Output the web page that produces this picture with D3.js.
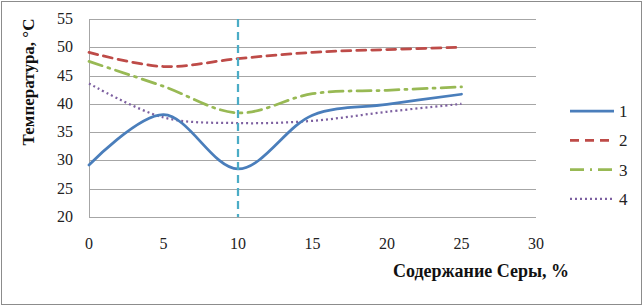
<!DOCTYPE html>
<html>
<head>
<meta charset="utf-8">
<script src="https://cdn.jsdelivr.net/npm/d3@7"></script>
<style>
  body { margin: 0; background: #fff; }
</style>
</head>
<body>
<svg id="chart" width="644" height="307"></svg>
<script>
// sulfur content, %
const sulfur = [0, 5, 10, 15, 20, 25];
const series1 = [29.2, 38.1, 28.5, 38.0, 39.9, 41.7];
const series2 = [49.1, 46.6, 48.0, 49.1, 49.6, 50.0];
const series3 = [47.5, 43.1, 38.4, 41.8, 42.4, 43.0];
const series4 = [43.6, 37.6, 36.6, 37.0, 38.6, 40.0];
const seriesNames = ["1", "2", "3", "4"];
const xTicks = [0, 5, 10, 15, 20, 25, 30];
const yTicks = [20, 25, 30, 35, 40, 45, 50, 55];
const markerX = 10;

const FONT = "'Liberation Serif', 'DejaVu Serif', 'Times New Roman', serif";

const svg = d3.select("#chart")
    .attr("font-family", FONT);

// outer frame
svg.append("rect")
    .attr("x", 1.5).attr("y", 1.5)
    .attr("width", 640).attr("height", 303)
    .attr("fill", "#fff")
    .attr("stroke", "#8c8c8c")
    .attr("stroke-width", 1);

const x = d3.scaleLinear().domain([0, 30]).range([89, 536]);
const y = d3.scaleLinear().domain([20, 55]).range([217, 19]);

// horizontal grid
svg.append("g")
    .selectAll("line")
    .data(yTicks)
    .join("line")
    .attr("x1", x(0)).attr("x2", x(30))
    .attr("y1", d => Math.round(y(d)) + 0.5)
    .attr("y2", d => Math.round(y(d)) + 0.5)
    .attr("stroke", "#a6a6a6")
    .attr("stroke-width", 1);

// left axis line
svg.append("line")
    .attr("x1", x(0) + 0.5).attr("x2", x(0) + 0.5)
    .attr("y1", y(55)).attr("y2", y(20))
    .attr("stroke", "#a6a6a6");

// y tick labels
svg.append("g")
    .selectAll("text")
    .data(yTicks)
    .join("text")
    .attr("font-family", FONT)
    .attr("x", 73)
    .attr("y", d => y(d) + 5)
    .attr("text-anchor", "end")
    .attr("font-size", 16)
    .attr("fill", "#222")
    .text(d => d);

// x tick labels
svg.append("g")
    .selectAll("text")
    .data(xTicks)
    .join("text")
    .attr("font-family", FONT)
    .attr("x", d => x(d))
    .attr("y", 249)
    .attr("text-anchor", "middle")
    .attr("font-size", 16)
    .attr("fill", "#222")
    .text(d => d);

// axis titles
svg.append("text")
    .attr("font-family", FONT)
    .attr("transform", "translate(34,82) rotate(-90)")
    .attr("text-anchor", "middle")
    .attr("font-size", 17)
    .attr("font-weight", "bold")
    .attr("fill", "#111")
    .text("Температура, °С");

svg.append("text")
    .attr("font-family", FONT)
    .attr("x", 481)
    .attr("y", 277)
    .attr("text-anchor", "middle")
    .attr("font-size", 18)
    .attr("font-weight", "bold")
    .attr("fill", "#111")
    .text("Содержание Серы, %");

// series
const styles = [
    { color: "#4a7ebb", dash: null, width: 2.75 },
    { color: "#be4b48", dash: "9,6", width: 2.75 },
    { color: "#98b954", dash: "14,6,2,6", width: 2.75 },
    { color: "#7d60a0", dash: "2,3", width: 2.25 }
];
const allSeries = [series1, series2, series3, series4];

const line = d3.line()
    .x((d, i) => x(sulfur[i]))
    .y(d => y(d))
    .curve(d3.curveCatmullRom.alpha(0.5));

// draw 4, 3, 2, 1 so blue ends on top
allSeries.map((s, i) => ({ s, i })).reverse().forEach(({ s, i }) => {
    svg.append("path")
        .datum(s)
        .attr("d", line)
        .attr("fill", "none")
        .attr("stroke", styles[i].color)
        .attr("stroke-width", styles[i].width)
        .attr("stroke-dasharray", styles[i].dash)
        .attr("stroke-linecap", i === 3 ? "butt" : "round");
});

// vertical marker at 10 %
svg.append("line")
    .attr("x1", x(markerX)).attr("x2", x(markerX))
    .attr("y1", y(55)).attr("y2", y(20))
    .attr("stroke", "#4bacc6")
    .attr("stroke-width", 2.25)
    .attr("stroke-dasharray", "8,5");

// legend
const legend = svg.append("g");
seriesNames.forEach((name, i) => {
    const ly = 111 + i * 29.3;
    legend.append("line")
        .attr("x1", 570).attr("x2", 614)
        .attr("y1", ly).attr("y2", ly)
        .attr("stroke", styles[i].color)
        .attr("stroke-width", styles[i].width)
        .attr("stroke-dasharray", styles[i].dash);
    legend.append("text")
        .attr("font-family", FONT)
        .attr("x", 619)
        .attr("y", ly + 6)
        .attr("font-size", 17)
        .attr("fill", "#222")
        .text(name);
});
</script>
</body>
</html>
